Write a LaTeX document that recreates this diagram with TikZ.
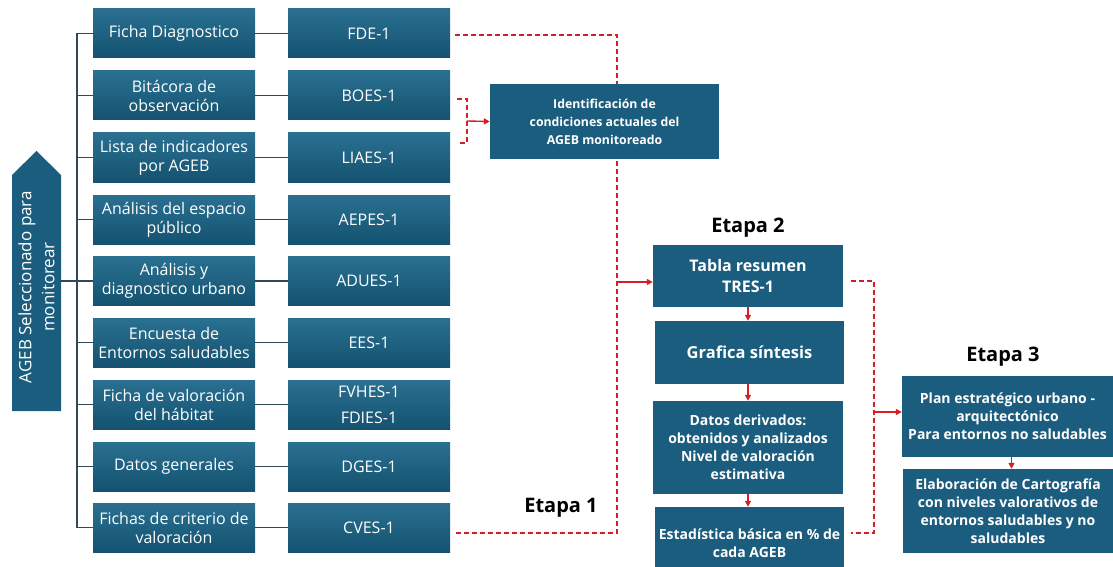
\documentclass[tikz,border=0pt]{standalone}
\usepackage{fontspec}
\setmainfont{Open Sans}
\usetikzlibrary{arrows.meta,backgrounds}
\definecolor{azul}{RGB}{27,93,126}
\definecolor{azulclaro}{RGB}{42,112,145}
\definecolor{azuloscuro}{RGB}{20,82,112}
\definecolor{rojo}{RGB}{212,32,36}
\definecolor{rama}{RGB}{50,72,86}
\begin{document}
\begin{tikzpicture}[x=1pt,y=-1pt,
    doc/.style = {top color=azulclaro, bottom color=azuloscuro, minimum width=162pt, minimum height=49pt, inner sep=1pt, text=white, align=center, font=\fontsize{16}{19}\selectfont},
    paso/.style = {fill=azul, inner sep=1pt, text=white, align=center, font=\bfseries\fontsize{14}{18}\selectfont},
    etapa/.style = {font=\bfseries\fontsize{20}{22}\selectfont},
    rama/.style = {draw=rama, line width=1.2pt},
    liga/.style = {draw=rojo, line width=1.4pt, dash pattern=on 5pt off 3pt},
    flecha/.style = {draw=rojo, line width=1.4pt, -{Triangle[length=6pt,width=6pt]}}]
        \useasboundingbox (0,0) rectangle (1113,567);
        % columna de documentos
        \node[doc] (fic) at (174,33.5) {Ficha Diagnostico};
        \node[doc] (bit) at (174,95.5) {Bitácora de\\observación};
        \node[doc] (lis) at (174,157.5) {Lista de indicadores\\por AGEB};
        \node[doc] (ana) at (174,219.5) {Análisis del espacio\\público};
        \node[doc] (adu) at (174,281) {Análisis y\\diagnostico urbano};
        \node[doc] (enc) at (174,342.5) {Encuesta de\\Entornos saludables};
        \node[doc] (fva) at (174,404.5) {Ficha de valoración\\del hábitat};
        \node[doc] (dat) at (174,466.5) {Datos generales};
        \node[doc] (fcr) at (174,527.5) {Fichas de criterio de\\valoración};
        % columna de claves
        \node[doc] (fde) at (369,33.5) {FDE-1};
        \node[doc] (boe) at (369,95.5) {BOES-1};
        \node[doc] (lia) at (369,157.5) {LIAES-1};
        \node[doc] (aep) at (369,219.5) {AEPES-1};
        \node[doc] (adc) at (369,281) {ADUES-1};
        \node[doc] (ees) at (369,342.5) {EES-1};
        \node[doc] (fvh) at (369,404.5) {FVHES-1\\[7pt]FDIES-1};
        \node[doc] (dge) at (369,466.5) {DGES-1};
        \node[doc] (cve) at (369,527.5) {CVES-1};
        % flecha AGEB
        \fill[azul] (12,411) -- (12,175) -- (36.5,151) -- (61,175) -- (61,411) -- cycle;
        \node[rotate=90, text=white, align=center, font=\fontsize{17}{23}\selectfont] (ageb) at (36.5,287) {AGEB Seleccionado para\\monitorear};
        \coordinate (ageb-e) at (61,281);
        \coordinate (tr1) at (77,33.5);
        \coordinate (tr9) at (77,527.5);
        \draw[rama] (tr1) -- (tr9);
        \draw[rama] (ageb-e) -- (ageb-e -| tr1);
        \draw[rama] (fic.west) -- (fic.west -| tr1);
        \draw[rama] (bit.west) -- (bit.west -| tr1);
        \draw[rama] (lis.west) -- (lis.west -| tr1);
        \draw[rama] (ana.west) -- (ana.west -| tr1);
        \draw[rama] (adu.west) -- (adu.west -| tr1);
        \draw[rama] (enc.west) -- (enc.west -| tr1);
        \draw[rama] (fva.west) -- (fva.west -| tr1);
        \draw[rama] (dat.west) -- (dat.west -| tr1);
        \draw[rama] (fcr.west) -- (fcr.west -| tr1);
        \draw[rama] (fic.east) -- (fde.west);
        \draw[rama] (bit.east) -- (boe.west);
        \draw[rama] (lis.east) -- (lia.west);
        \draw[rama] (ana.east) -- (aep.west);
        \draw[rama] (adu.east) -- (adc.west);
        \draw[rama] (enc.east) -- (ees.west);
        \draw[rama] (fva.east) -- (fvh.west);
        \draw[rama] (dat.east) -- (dge.west);
        \draw[rama] (fcr.east) -- (cve.west);
        % Etapa 1
        \node[paso, minimum width=229pt, minimum height=75pt, font=\bfseries\fontsize{12.3}{18}\selectfont] (ide) at (604.5,121.5) {Identificación de\\condiciones actuales del\\AGEB monitoreado};
        \node[etapa] (et1) at (561,508) {Etapa 1};
        % Etapa 2
        \node[etapa] (et2) at (748,228) {Etapa 2};
        \node[paso, minimum width=190pt, minimum height=62pt, font=\bfseries\fontsize{16}{21}\selectfont] (tab) at (748,276) {Tabla resumen\\TRES-1};
        \node[paso, minimum width=189pt, minimum height=63pt, font=\bfseries\fontsize{16.5}{18}\selectfont] (gra) at (749.5,352.5) {Grafica síntesis};
        \node[paso, minimum width=190pt, minimum height=93pt] (der) at (748,447.5) {Datos derivados:\\obtenidos y analizados\\Nivel de valoración\\estimativa};
        \node[paso, minimum width=189pt, minimum height=73pt] (est) at (749.5,543.5) {Estadística básica en \% de\\cada AGEB};
        \draw[flecha] (tab.south) -- (tab.south |- gra.north);
        \draw[flecha] (tab.south |- gra.south) -- (tab.south |- der.north);
        \draw[flecha] (der.south) -- (der.south |- est.north);
        % Etapa 3
        \node[etapa] (et3) at (1003,357) {Etapa 3};
        \node[paso, minimum width=211pt, minimum height=81pt] (pla) at (1007.5,416.5) {Plan estratégico urbano -\\arquitectónico\\Para entornos no saludables};
        \node[paso, minimum width=210pt, minimum height=84pt] (ela) at (1008,511) {Elaboración de Cartografía\\con niveles valorativos de\\entornos saludables y no\\saludables};
        \draw[flecha] ([xshift=4pt]pla.south) -- ([xshift=4pt]pla.south |- ela.north);
        % ligas rojas
        \coordinate (c0) at (455,35);
        \coordinate (c1) at (617,35);
        \coordinate (c5) at (617,282);
        \coordinate (c9) at (617,533);
        \coordinate (c10) at (455,533);
        \coordinate (b1) at (457,99);
        \coordinate (bk) at (467,121);
        \coordinate (b2) at (457,143);
        \coordinate (d0) at (851,281);
        \coordinate (d1) at (874,281);
        \coordinate (d5) at (874,412);
        \coordinate (d9) at (874,533);
        \coordinate (d10) at (851,533);
        \begin{scope}[on background layer]
        \draw[liga] (c0) -- (c1) -- (c9) -- (c10);
        \end{scope}
        \draw[liga] (b1) -| (bk) |- (b2);
        \draw[flecha] (bk) -- (ide.west);
        \draw[flecha] (c5) -- (tab.west |- c5);
        \draw[liga] (d0) -- (d1) -- (d9) -- (d10);
        \draw[flecha] (d5) -- (pla.west |- d5);
\end{tikzpicture}
\end{document}
